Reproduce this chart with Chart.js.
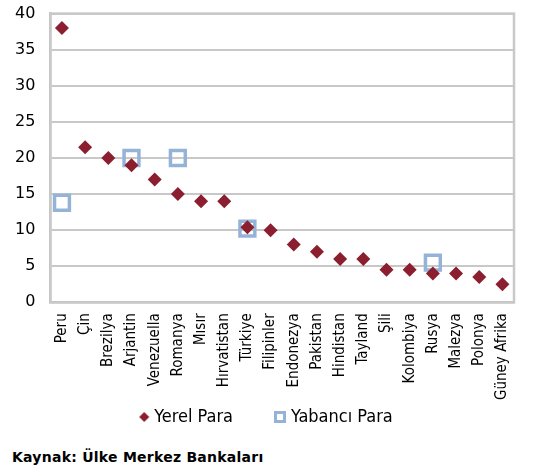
<!DOCTYPE html>
<html>
<head>
<meta charset="utf-8">
<script src="https://cdn.jsdelivr.net/npm/chart.js@4.4.1/dist/chart.umd.min.js"></script>
<style>
  body { margin: 0; background: #fff; overflow: hidden; }
  #wrap { position: absolute; left: 0; top: -11px; width: 551px; height: 451px; }
  #source {
    position: absolute; left: 12px; top: 449px;
    font: bold 14px "DejaVu Sans", sans-serif;
    letter-spacing: 0.25px;
    color: #000;
  }
</style>
</head>
<body>
<div id="wrap"><canvas id="chart"></canvas></div>
<div id="source">Kaynak: Ülke Merkez Bankaları</div>
<script>
// Ülkeler ve para birimine göre oranlar (%)
const countries = ['Peru', 'Çin', 'Brezilya', 'Arjantin', 'Venezuella', 'Romanya', 'Mısır',
  'Hırvatistan', 'Türkiye', 'Filipinler', 'Endonezya', 'Pakistan', 'Hindistan', 'Tayland',
  'Şili', 'Kolombiya', 'Rusya', 'Malezya', 'Polonya', 'Güney Afrika'];
const yerelPara = [38, 21.5, 20, 19, 17, 15, 14, 14, 10.4, 10, 8, 7, 6, 6, 4.5, 4.5, 4, 4, 3.5, 2.5];
const yabanciPara = [13.8, null, null, 20, null, 20, null, null, 10.2, null, null, null, null, null,
  null, null, 5.5, null, null, null];
const yTicks = [0, 5, 10, 15, 20, 25, 30, 35, 40];

const FONT = '"DejaVu Sans", sans-serif';
const FONT_NARROW = '"DejaVu Sans Condensed", "DejaVu Sans", sans-serif';
const RED = '#8b1e2f';
const BLUE = '#95b3d7';
const GRID = '#c8c8c8';
const LEGEND_BOX = 48;

// legend icons: symbol sits at the right end so it hugs the label text
function icon(kind) {
  const c = document.createElement('canvas');
  c.width = LEGEND_BOX + 10; c.height = 14;
  const g = c.getContext('2d');
  const r = c.width;
  if (kind === 'diamond') {
    g.fillStyle = RED;
    g.beginPath();
    g.moveTo(r - 6, 2); g.lineTo(r - 1, 7); g.lineTo(r - 6, 12); g.lineTo(r - 11, 7);
    g.closePath(); g.fill();
  } else {
    g.fillStyle = '#fff';
    g.fillRect(r - 13, 1, 12, 12);
    g.strokeStyle = BLUE; g.lineWidth = 3;
    g.strokeRect(r - 11.5, 2.5, 9, 9);
  }
  return c;
}
const legendIcons = [icon('diamond'), icon('square')];

// frame around the plot area; legend pulled up and left under the plot
const frame = {
  id: 'frame',
  afterLayout(chart) {
    const lg = chart.legend;
    lg.left -= 12; lg.right -= 12;
    lg.top -= 4; lg.bottom -= 4;
  },
  beforeDatasetsDraw(chart) {
    const a = chart.chartArea, ctx = chart.ctx;
    ctx.save();
    ctx.strokeStyle = GRID;
    ctx.lineWidth = 2.5;
    ctx.strokeRect(a.left, a.top, a.right - a.left, a.bottom - a.top);
    ctx.restore();
  }
};

new Chart(document.getElementById('chart'), {
  type: 'line',
  data: {
    labels: countries,
    datasets: [{
      label: 'Yerel Para',
      data: yerelPara,
      showLine: false,
      pointStyle: 'rectRot',
      pointRadius: 7,
      pointHoverRadius: 7,
      backgroundColor: RED,
      borderColor: RED,
      pointBorderWidth: 0
    }, {
      label: 'Yabancı Para',
      data: yabanciPara,
      showLine: false,
      pointStyle: 'rect',
      pointRadius: 10.5,
      pointHoverRadius: 10.5,
      backgroundColor: 'rgba(255,255,255,0)',
      borderColor: BLUE,
      pointBorderWidth: 3.5
    }]
  },
  options: {
    responsive: true,
    maintainAspectRatio: false,
    animation: false,
    layout: { padding: { top: 0, right: 37, left: 0, bottom: 0 } },
    plugins: {
      tooltip: { enabled: false },
      legend: {
        position: 'bottom',
        labels: {
          usePointStyle: true,
          pointStyleWidth: LEGEND_BOX,
          boxHeight: 14,
          padding: 1,
          color: '#000',
          font: { family: FONT_NARROW, size: 18 },
          generateLabels(chart) {
            return chart.data.datasets.map((ds, i) => ({
              text: ds.label,
              pointStyle: legendIcons[i],
              fillStyle: ds.backgroundColor,
              strokeStyle: ds.borderColor,
              lineWidth: 0,
              hidden: false,
              datasetIndex: i
            }));
          }
        }
      }
    },
    scales: {
      x: {
        offset: true,
        grid: { display: false, drawTicks: false },
        border: { display: true, color: GRID, width: 2.5 },
        ticks: {
          autoSkip: false,
          minRotation: 90,
          maxRotation: 90,
          padding: 11,
          color: '#000',
          font: { family: FONT_NARROW, size: 15 }
        }
      },
      y: {
        min: 0,
        max: 40,
        afterBuildTicks(scale) { scale.ticks = yTicks.map(v => ({ value: v })); },
        grid: { color: GRID, lineWidth: 2, drawTicks: false },
        border: { display: true, color: GRID, width: 2.5 },
        ticks: {
          padding: 15,
          color: '#000',
          font: { family: FONT, size: 16 }
        }
      }
    }
  },
  plugins: [frame]
});
</script>
</body>
</html>
